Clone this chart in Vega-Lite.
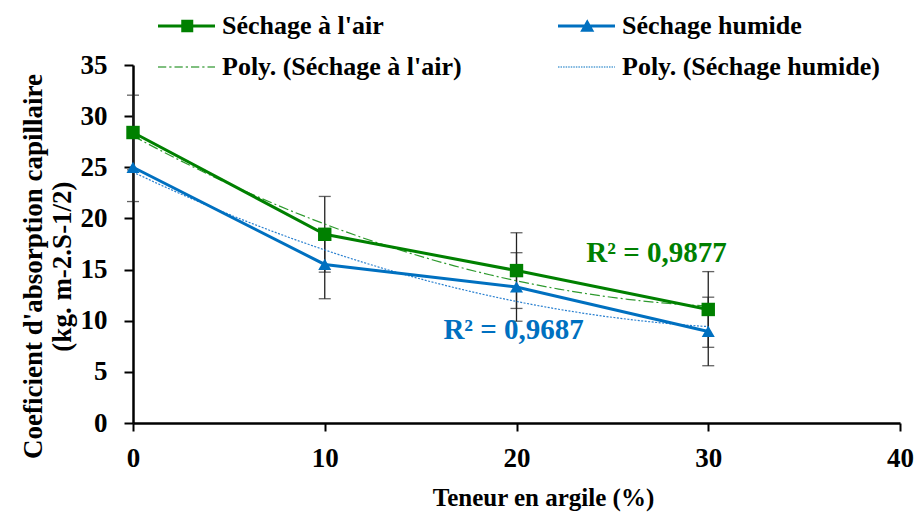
{
  "$schema": "https://vega.github.io/schema/vega-lite/v6.json",
  "autosize": {"type": "none"},
  "padding": {"left": 133, "top": 65, "right": 18, "bottom": 90},
  "width": 767,
  "height": 358,
  "background": "white",
  "config": {
    "view": {"stroke": null},
    "font": "Liberation Serif",
    "axis": {"grid": false, "domainColor": "black", "tickColor": "black", "labelColor": "black", "titleColor": "black",
             "labelFont": "Liberation Serif", "titleFont": "Liberation Serif", "labelFontWeight": "bold", "titleFontWeight": "bold"}
  },
  "datasets": {
    "main": [
      {"x": 0, "y": 28.4, "err": 3.65, "series": "Séchage à l'air", "trend": "Poly. (Séchage à l'air)"},
      {"x": 10, "y": 18.45, "err": 3.7, "series": "Séchage à l'air", "trend": "Poly. (Séchage à l'air)"},
      {"x": 20, "y": 14.9, "err": 3.7, "series": "Séchage à l'air", "trend": "Poly. (Séchage à l'air)"},
      {"x": 30, "y": 11.1, "err": 3.7, "series": "Séchage à l'air", "trend": "Poly. (Séchage à l'air)"},
      {"x": 0, "y": 25.0, "err": 3.35, "series": "Séchage humide", "trend": "Poly. (Séchage humide)"},
      {"x": 10, "y": 15.5, "err": 3.35, "series": "Séchage humide", "trend": "Poly. (Séchage humide)"},
      {"x": 20, "y": 13.3, "err": 3.35, "series": "Séchage humide", "trend": "Poly. (Séchage humide)"},
      {"x": 30, "y": 8.95, "err": 3.35, "series": "Séchage humide", "trend": "Poly. (Séchage humide)"}
    ],
    "labels": [
      {"x": 27.3, "y": 16.6, "text": "R² = 0,9877", "series": "Séchage à l'air"},
      {"x": 19.85, "y": 9.05, "text": "R² = 0,9687", "series": "Séchage humide"}
    ]
  },
  "data": {"name": "main"},
  "encoding": {
    "x": {"field": "x", "type": "quantitative",
          "scale": {"domain": [0, 40], "nice": false},
          "axis": {"values": [0, 10, 20, 30, 40], "title": "Teneur en argile (%)", "labelFontSize": 27, "labelPadding": 14,
                   "labelFlush": false, "tickSize": 8, "tickWidth": 2, "domainWidth": 2.5, "titleFontSize": 25,
                   "titleX": 410, "titleY": 74, "titleBaseline": "middle", "titleAlign": "center"}},
    "y": {"field": "y", "type": "quantitative",
          "scale": {"domain": [0, 35], "nice": false},
          "axis": {"values": [0, 5, 10, 15, 20, 25, 30, 35], "title": ["Coeficient d'absorption capillaire", "(kg. m-2.S-1/2)"],
                   "labelFontSize": 27, "labelPadding": 17, "tickSize": 9, "tickWidth": 2, "domainWidth": 2.5,
                   "titleFontSize": 27, "titleLineHeight": 29, "titleAngle": -90, "titleX": -100, "titleY": 201,
                   "titleAlign": "center", "titleBaseline": "middle"}}
  },
  "layer": [
    {
      "mark": {"type": "errorbar", "ticks": {"size": 12}, "color": "#222222", "thickness": 1.3},
      "encoding": {"yError": {"field": "err"}, "detail": {"field": "series"}}
    },
    {
      "transform": [{"filter": {"field": "series", "equal": "Séchage à l'air"}},
                    {"regression": "y", "on": "x", "method": "poly", "order": 2, "extent": [0, 30]}],
      "mark": {"type": "line", "strokeWidth": 1.2, "color": "#2e9a2e", "strokeDash": [10, 3, 2, 3]}
    },
    {
      "transform": [{"filter": {"field": "series", "equal": "Séchage humide"}},
                    {"regression": "y", "on": "x", "method": "poly", "order": 2, "extent": [0, 30]}],
      "mark": {"type": "line", "strokeWidth": 1.2, "color": "#2a80d0", "strokeDash": [2, 1.5]}
    },
    {
      "transform": [{"filter": {"field": "series", "equal": "Séchage à l'air"}}],
      "mark": {"type": "line", "strokeWidth": 3, "color": "#008000"}
    },
    {
      "transform": [{"filter": {"field": "series", "equal": "Séchage humide"}}],
      "mark": {"type": "line", "strokeWidth": 3, "color": "#0070C0"}
    },
    {
      "transform": [{"filter": {"field": "series", "equal": "Séchage à l'air"}}],
      "mark": {"type": "point", "shape": "square", "filled": true, "size": 180, "color": "#008000", "opacity": 1}
    },
    {
      "transform": [{"filter": {"field": "series", "equal": "Séchage humide"}}],
      "mark": {"type": "point", "shape": "triangle-up", "filled": true, "size": 170, "color": "#0070C0", "opacity": 1}
    },
    {
      "data": {"name": "labels"},
      "transform": [{"filter": {"field": "series", "equal": "Séchage à l'air"}}],
      "mark": {"type": "text", "font": "Liberation Serif", "fontWeight": "bold", "fontSize": 29, "align": "center", "baseline": "middle", "color": "#008000"},
      "encoding": {"text": {"field": "text"}}
    },
    {
      "data": {"name": "labels"},
      "transform": [{"filter": {"field": "series", "equal": "Séchage humide"}}],
      "mark": {"type": "text", "font": "Liberation Serif", "fontWeight": "bold", "fontSize": 29, "align": "center", "baseline": "middle", "color": "#0070C0"},
      "encoding": {"text": {"field": "text"}}
    },
    {
      "mark": {"type": "point", "filled": true, "size": 0},
      "encoding": {
        "color": {"field": "series", "type": "nominal",
                 "scale": {"domain": ["Séchage à l'air", "Poly. (Séchage à l'air)", "Séchage humide", "Poly. (Séchage humide)"],
                           "range": ["#008000", "#008000", "#0070C0", "#0070C0"]},
                 "legend": {"title": null, "orient": "none", "legendX": 52, "legendY": -54, "columns": 2, "columnPadding": 96, "rowPadding": 13,
                            "symbolSize": 900, "labelFont": "Liberation Serif", "labelFontSize": 26, "labelFontWeight": "bold",
                            "labelColor": "black", "labelOffset": 7, "symbolStrokeWidth": 0, "symbolOpacity": 1,
                            "padding": 0, "labelLimit": 400}},
        "shape": {"field": "series", "type": "nominal",
                  "scale": {"domain": ["Séchage à l'air", "Poly. (Séchage à l'air)", "Séchage humide", "Poly. (Séchage humide)"],
                            "range": [
                              "M-2.8,-0.1H1V0.1H-2.8Z M-1.25,-0.42H-0.45V0.42H-1.25Z",
                              "M-2.8,-0.04h0.55v0.08h-0.55Z M-2.05,-0.04h0.15v0.08h-0.15Z M-1.7,-0.04h0.55v0.08h-0.55Z M-0.95,-0.04h0.15v0.08h-0.15Z M-0.6,-0.04h0.55v0.08h-0.55Z M0.15,-0.04h0.15v0.08h-0.15Z M0.5,-0.04h0.5v0.08h-0.5Z",
                              "M-2.8,-0.1H1V0.1H-2.8Z M-0.85,-0.45L-0.38,0.38H-1.32Z",
                              "M-2.8,-0.035h0.1v0.07h-0.1Z M-2.63,-0.035h0.1v0.07h-0.1Z M-2.46,-0.035h0.1v0.07h-0.1Z M-2.29,-0.035h0.1v0.07h-0.1Z M-2.12,-0.035h0.1v0.07h-0.1Z M-1.95,-0.035h0.1v0.07h-0.1Z M-1.78,-0.035h0.1v0.07h-0.1Z M-1.61,-0.035h0.1v0.07h-0.1Z M-1.44,-0.035h0.1v0.07h-0.1Z M-1.27,-0.035h0.1v0.07h-0.1Z M-1.1,-0.035h0.1v0.07h-0.1Z M-0.93,-0.035h0.1v0.07h-0.1Z M-0.76,-0.035h0.1v0.07h-0.1Z M-0.59,-0.035h0.1v0.07h-0.1Z M-0.42,-0.035h0.1v0.07h-0.1Z M-0.25,-0.035h0.1v0.07h-0.1Z M-0.08,-0.035h0.1v0.07h-0.1Z M0.09,-0.035h0.1v0.07h-0.1Z M0.26,-0.035h0.1v0.07h-0.1Z M0.43,-0.035h0.1v0.07h-0.1Z M0.6,-0.035h0.1v0.07h-0.1Z M0.77,-0.035h0.1v0.07h-0.1Z M0.94,-0.035h0.06v0.07h-0.06Z"
                            ]},
                  "legend": {"title": null, "orient": "none", "legendX": 52, "legendY": -54, "columns": 2, "columnPadding": 96, "rowPadding": 13,
                            "symbolSize": 900, "labelFont": "Liberation Serif", "labelFontSize": 26, "labelFontWeight": "bold",
                            "labelColor": "black", "labelOffset": 7, "symbolStrokeWidth": 0, "symbolOpacity": 1,
                            "padding": 0, "labelLimit": 400}}
      }
    }
  ]
}
